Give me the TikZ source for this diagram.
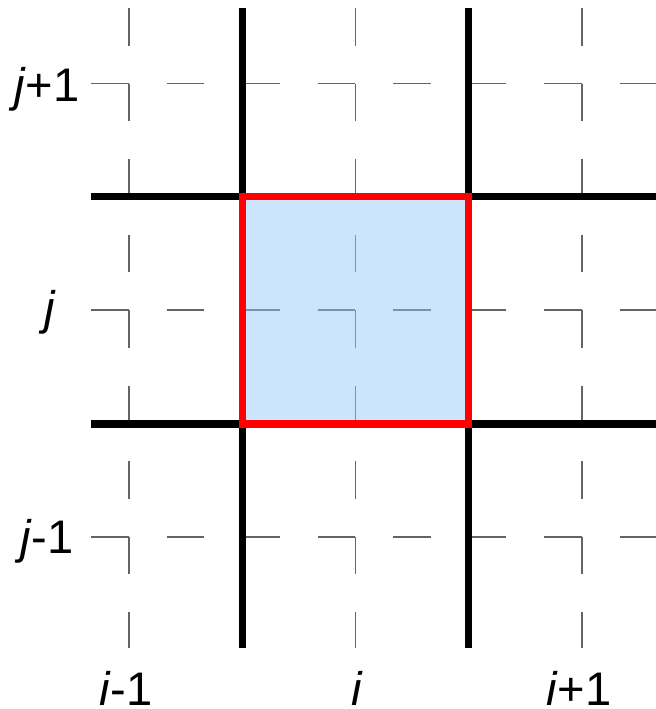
\documentclass[tikz,border=0pt]{standalone}
\usepackage{fontspec}
\setmainfont{Liberation Sans}
\usepackage{tikz}
\usetikzlibrary{positioning}
\definecolor{cellblue}{RGB}{147,200,255}
\definecolor{gridgray}{RGB}{100,100,100}

\tikzset{
  thickline/.style={line width=5pt,black},
  dashline/.style={line width=0.9pt,gridgray,dash pattern=on 26.85pt off 26.85pt},
  lbl/.style={anchor=base,inner sep=0pt,text depth=0pt,font=\fontsize{33.5}{40}\selectfont}
}

\begin{document}
\begin{tikzpicture}[x=0.025cm,y=-0.025cm]
\useasboundingbox (0,0) rectangle (656,709);
% dashed cell centre lines
\foreach \gx in {129,355.5,582}
  \draw[dashline] (\gx,8) -- (\gx,648);
\foreach \gy in {83.5,310,537}
  \draw[dashline] (91,\gy) -- (656,\gy);
% the cell (i,j)
\fill[cellblue,fill opacity=0.47] (242.5,196.5) rectangle (468.5,424);
% cell faces
\foreach \gx in {242.5,468.5}
  \draw[thickline] (\gx,8) -- (\gx,648);
\foreach \gy in {196.5,424}
  \draw[thickline] (91,\gy) -- (656,\gy);
\draw[line width=5pt,red] (242.5,196.5) rectangle (468.5,424);
% indices
\node[lbl] (jp) at (47,102) {\textit{j}+1};
\node[lbl] (jc) at (50,324) {\textit{j}};
\node[lbl] (jm) at (47,553) {\textit{j}-1};
\node[lbl] (im) at (126,705) {\textit{i}-1};
\node[lbl] (ic) at (357,705) {\textit{i}};
\node[lbl] (ip) at (579,705) {\textit{i}+1};
\end{tikzpicture}
\end{document}
